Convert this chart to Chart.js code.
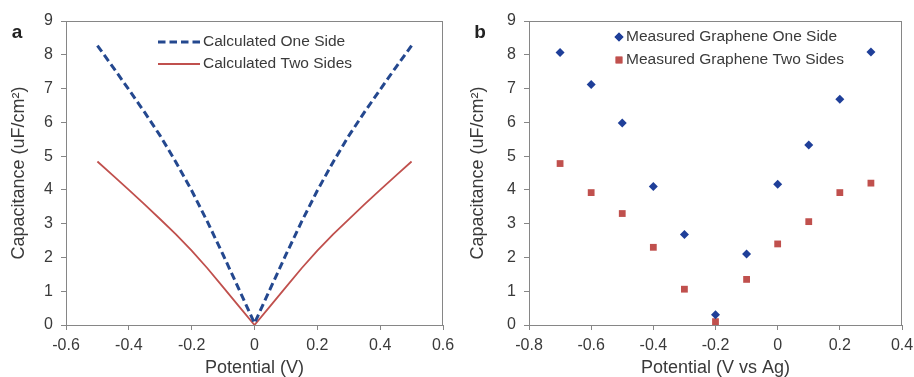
<!DOCTYPE html>
<html>
<head>
<meta charset="utf-8">
<script src="https://cdn.jsdelivr.net/npm/chart.js@4/dist/chart.umd.min.js"></script>
<style>
  html,body{margin:0;padding:0;background:#fff;}
  #wrap{position:relative;width:914px;height:377px;}
  canvas{position:absolute;top:0;}
  #chartA{left:0;}
  #chartB{left:457px;}
</style>
</head>
<body>
<div id="wrap">
  <canvas id="chartA" width="457" height="377"></canvas>
  <canvas id="chartB" width="457" height="377"></canvas>
</div>
<script>
// panel a - calculated curves
const potA=[-0.5,-0.45,-0.4,-0.35,-0.3,-0.25,-0.2,-0.15,-0.1,-0.05,0,0.05,0.1,0.15,0.2,0.25,0.3,0.35,0.4,0.45,0.5];
const calcOne=[8.27,7.63,6.97,6.3,5.6,4.82,3.98,3.06,2.08,1.07,0.05,1.07,2.08,3.06,3.98,4.82,5.6,6.3,6.97,7.63,8.27];
const calcTwo=[4.84,4.42,4.0,3.57,3.13,2.68,2.2,1.68,1.12,0.56,0,0.56,1.12,1.68,2.2,2.68,3.13,3.57,4.0,4.42,4.84];

// panel b - measured points
const potB=[-0.7,-0.6,-0.5,-0.4,-0.3,-0.2,-0.1,0,0.1,0.2,0.3];
const measOne=[8.07,7.12,5.98,4.1,2.68,0.3,2.1,4.17,5.33,6.68,8.08];
const measTwo=[4.78,3.92,3.3,2.3,1.06,0.1,1.35,2.4,3.06,3.92,4.2];

const labelsA=["Calculated One Side","Calculated Two Sides"];
const labelsB=["Measured Graphene One Side","Measured Graphene Two Sides"];

const FONT="'Liberation Sans', Arial, sans-serif";
const TXT="#3a3a3a";
const AXIS="#868686";
const BLUE="#24488f";
const RED="#c0504d";

function pts(xs,ys){return xs.map((x,i)=>({x:x,y:ys[i]}));}

/* box, panel letter and legend */
const panelDecor={
  id:"panelDecor",
  afterDraw(chart,args,o){
    const c=chart.ctx, a=chart.chartArea;
    c.save();
    c.strokeStyle=AXIS; c.lineWidth=1;
    c.strokeRect(a.left+0.5,a.top+0.5,a.right-a.left-1,a.bottom-a.top);
    c.fillStyle="#222";
    c.font="bold 19px "+FONT;
    c.textAlign="center"; c.textBaseline="middle";
    c.fillText(o.letter,o.letterX,33);
    c.font="15.5px "+FONT;
    c.textAlign="left";
    chart.data.datasets.forEach((ds,i)=>{
      const y=o.legendY+i*o.rowGap;
      if(ds.showLine){
        c.strokeStyle=ds.borderColor; c.lineWidth=ds.borderWidth;
        c.setLineDash(ds.borderDash||[]);
        c.beginPath(); c.moveTo(o.legendX,y); c.lineTo(o.legendX+42,y); c.stroke();
        c.setLineDash([]);
        c.fillStyle=TXT;
        c.fillText(ds.label,o.legendX+45,y);
      }else{
        c.fillStyle=ds.backgroundColor;
        Chart.helpers.drawPoint(c,{pointStyle:ds.pointStyle,radius:ds.pointRadius,borderWidth:0},o.legendX,y);
        c.fill();
        c.fillStyle=TXT;
        c.fillText(ds.label,o.legendX+7,y);
      }
    });
    c.restore();
  }
};

function axes(xmin,xmax,yLeft,titleX,titlePadY){
  return {
    x:{
      type:"linear",min:xmin,max:xmax,
      afterFit(s){s.height=52;s.paddingLeft=0;s.paddingRight=0;},
      border:{color:AXIS,width:1},
      grid:{drawOnChartArea:false,drawTicks:true,tickLength:5,color:AXIS},
      ticks:{stepSize:0.2,padding:6,color:TXT,font:{family:FONT,size:16},
        callback:v=>String(Math.round(v*10)/10)},
      title:{display:true,text:titleX,color:TXT,font:{family:FONT,size:18,lineHeight:1},padding:{top:0,bottom:0}}
    },
    y:{
      min:0,max:9,
      afterFit(s){s.width=yLeft;},
      border:{color:AXIS,width:1},
      grid:{drawOnChartArea:false,drawTicks:true,tickLength:5,color:AXIS},
      ticks:{stepSize:1,padding:8,color:TXT,font:{family:FONT,size:16}},
      title:{display:true,text:"Capacitance (uF/cm²)",color:TXT,font:{family:FONT,size:18,lineHeight:1},padding:{top:titlePadY,bottom:0}}
    }
  };
}

new Chart(document.getElementById("chartA"),{
  type:"scatter",
  data:{datasets:[
    {label:labelsA[0],data:pts(potA,calcOne),showLine:true,borderColor:BLUE,borderWidth:3,borderDash:[7.5,4],pointRadius:0},
    {label:labelsA[1],data:pts(potA,calcTwo),showLine:true,borderColor:RED,borderWidth:1.8,pointRadius:0}
  ]},
  options:{
    responsive:false,animation:false,
    layout:{padding:{top:21,right:14,bottom:0,left:0}},
    scales:axes(-0.6,0.6,66,"Potential (V)",10),
    plugins:{legend:{display:false},tooltip:{enabled:false},
      panelDecor:{letter:"a",letterX:17,legendX:158,legendY:42,rowGap:22}}
  },
  plugins:[panelDecor]
});

new Chart(document.getElementById("chartB"),{
  type:"scatter",
  data:{datasets:[
    {label:labelsB[0],data:pts(potB,measOne),pointStyle:"rectRot",pointRadius:4.5,backgroundColor:"#1f3f99",borderWidth:0},
    {label:labelsB[1],data:pts(potB,measTwo),pointStyle:"rect",pointRadius:4.8,backgroundColor:RED,borderWidth:0}
  ]},
  options:{
    responsive:false,animation:false,
    layout:{padding:{top:21,right:12,bottom:0,left:0}},
    scales:axes(-0.8,0.4,72,"Potential (V vs Ag)",12),
    plugins:{legend:{display:false},tooltip:{enabled:false},
      panelDecor:{letter:"b",letterX:23,legendX:162,legendY:37,rowGap:23}}
  },
  plugins:[panelDecor]
});
</script>
</body>
</html>
